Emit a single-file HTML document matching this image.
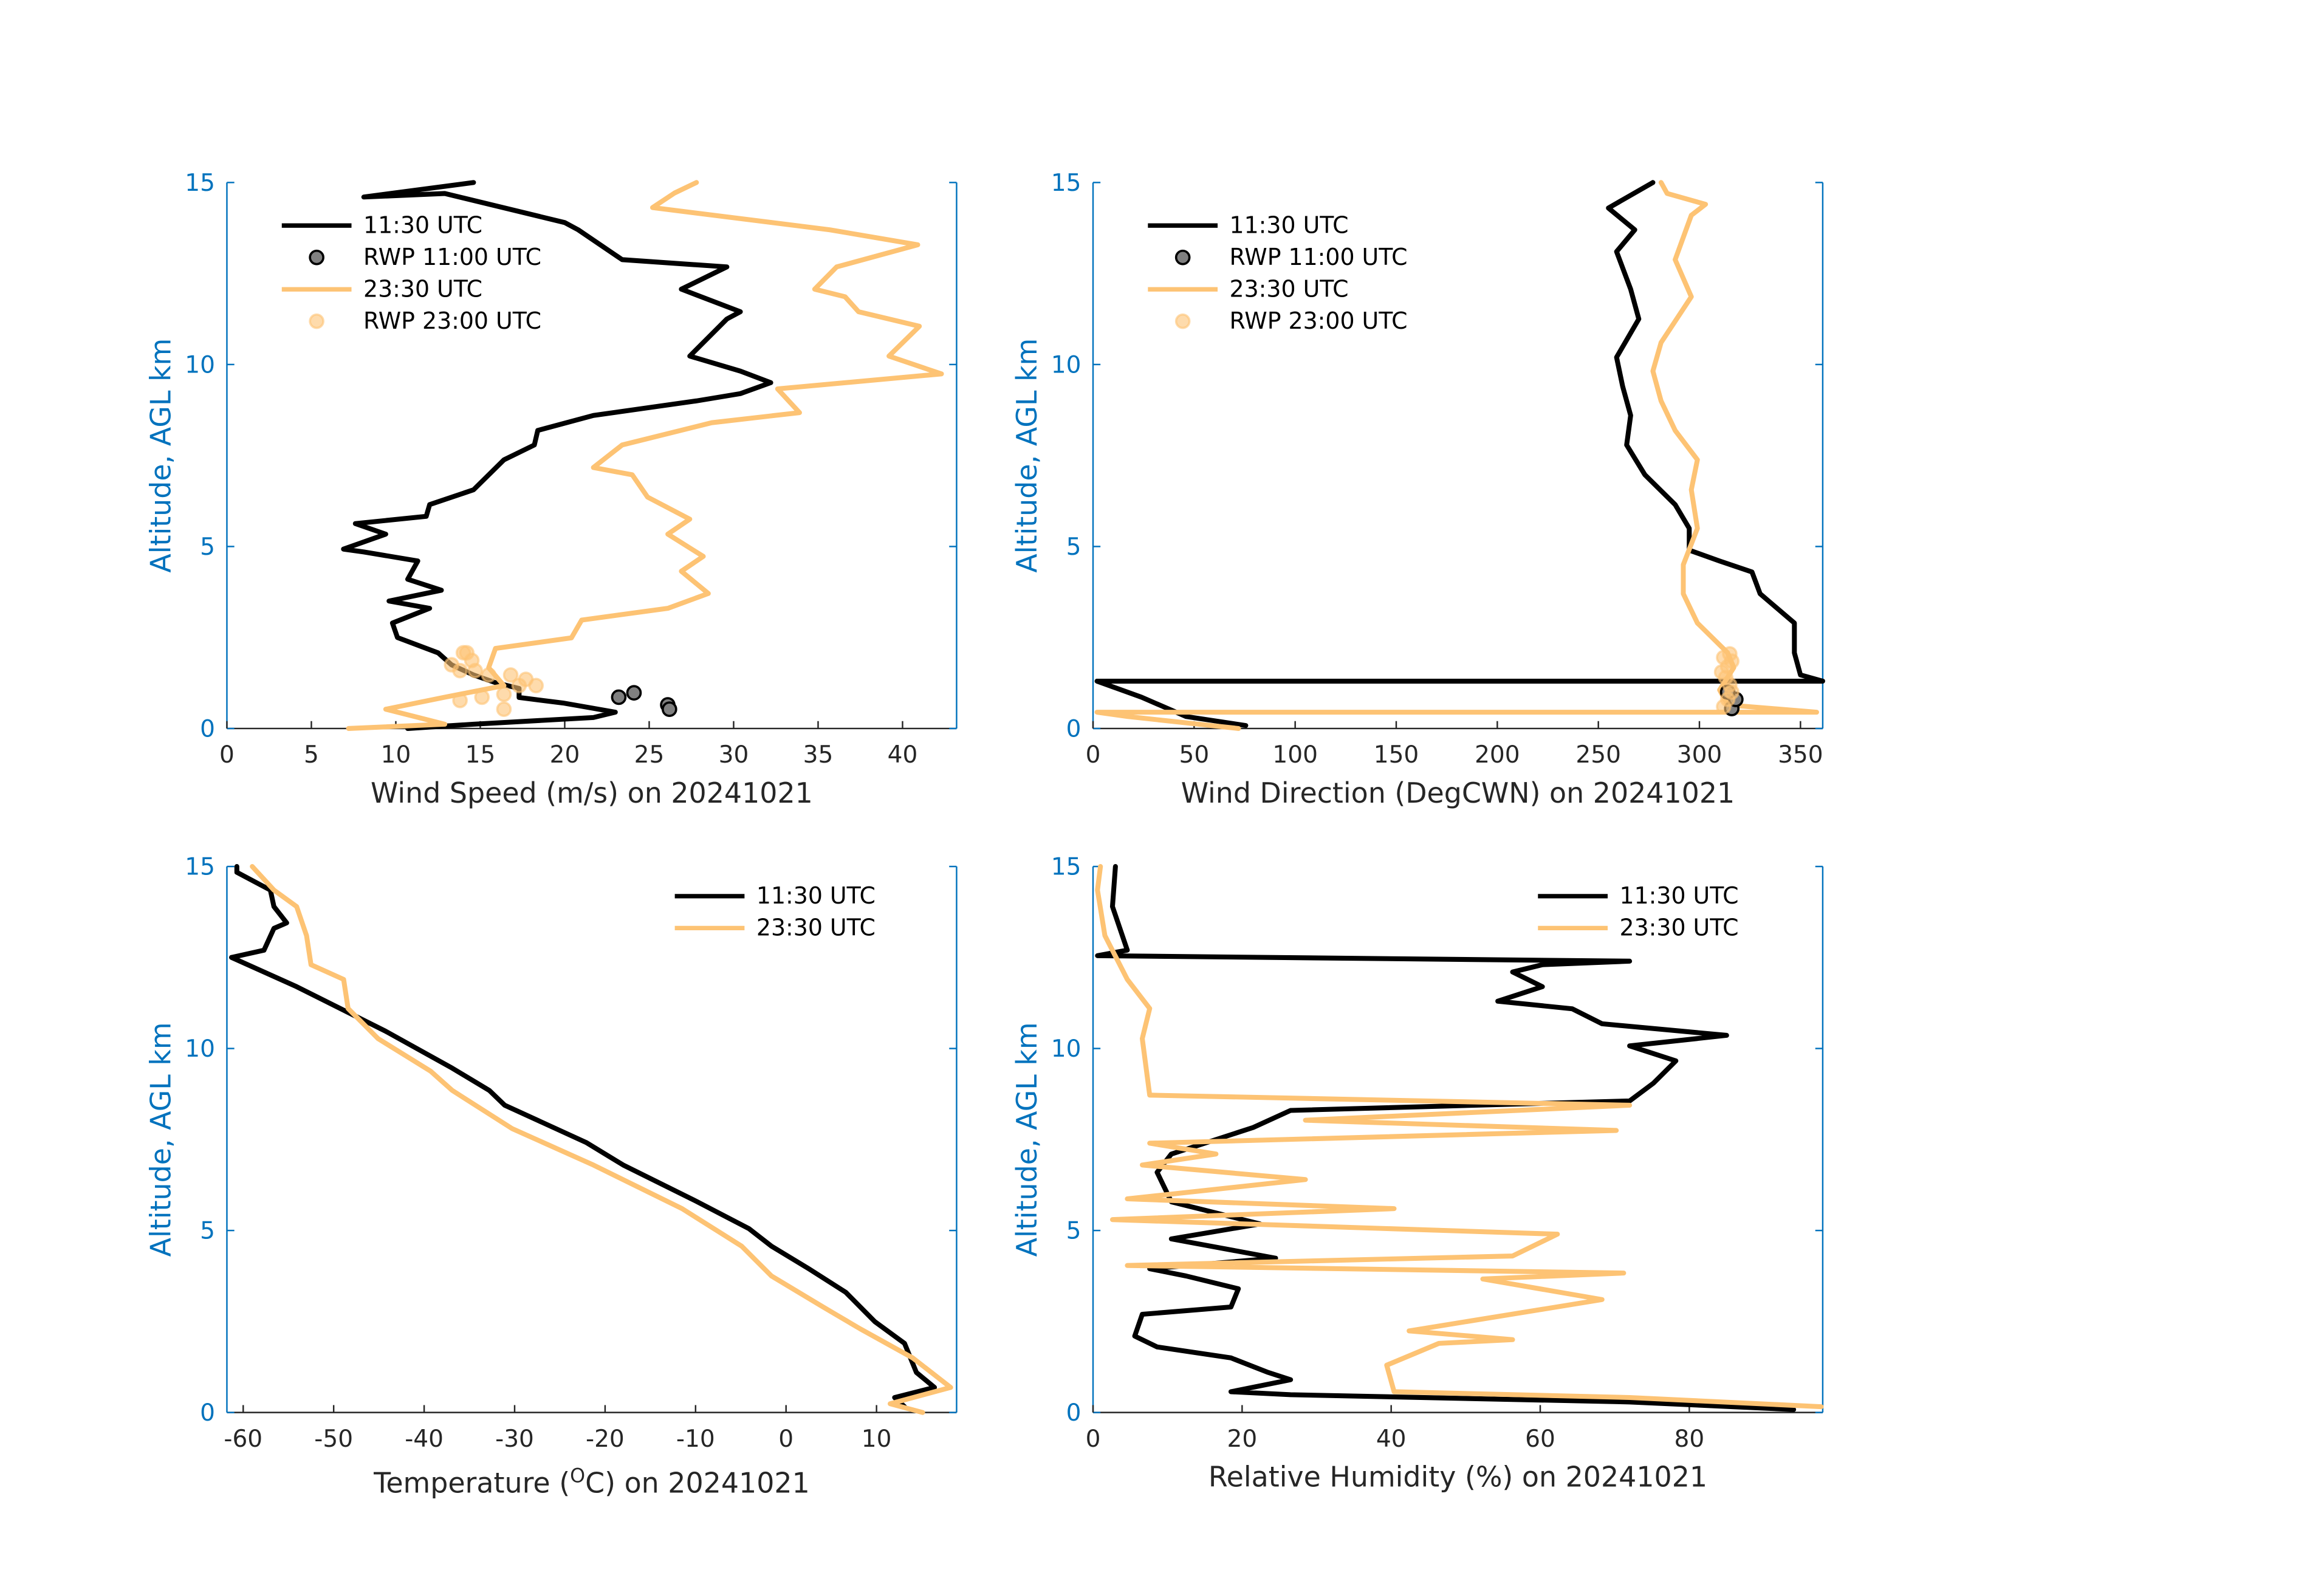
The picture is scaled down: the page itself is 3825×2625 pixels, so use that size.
<!DOCTYPE html>
<html><head><meta charset="utf-8"><style>
html,body{margin:0;padding:0;background:#fff;}
svg{display:block;}
text{font-family:"DejaVu Sans","Liberation Sans",sans-serif;}
</style></head><body>
<svg id="fig" xmlns="http://www.w3.org/2000/svg" width="3825" height="2625" viewBox="0 0 1567 1075" preserveAspectRatio="none">
<rect width="1567" height="1075" fill="#fff"/>
</svg>
<script>
// ---------- data (value, altitude km) ----------
const spd1130 = [10.7,14.6,21.7,23,19.9,17.3,17.3,15.9,14.6,13.3,12.5,10.1,9.8,12,9.6,12.7,10.7,11.3,8.1,6.9,9.4,7.6,11.8,12,14.6,16.4,18.2,18.4,21.7,27.8,30.4,32.2,30.4,27.4,29.6,30.4,26.9,29.6,23.4,20.8,20,12.9,8.1,14.6];
const spd1130Alt = [0,0.12,0.3,0.45,0.7,0.85,1.1,1.26,1.47,1.75,2.08,2.5,2.9,3.3,3.5,3.8,4.1,4.6,4.85,4.93,5.34,5.63,5.83,6.15,6.56,7.38,7.79,8.19,8.6,9.0,9.2,9.5,9.82,10.23,11.25,11.45,12.07,12.68,12.88,13.7,13.9,14.7,14.6,15];
const spd2330 = [7.2,12.9,9.4,12.9,16.4,15.5,15.9,20.4,21,26.1,28.5,26.9,28.2,26.1,27.4,24.9,24,21.7,23.4,28.7,33.9,32.6,42.3,39.2,41,37.4,36.6,34.8,36.1,40.9,35.7,25.2,26.5,27.8];
const spd2330Alt = [0,0.12,0.53,0.86,1.18,1.67,2.2,2.49,2.98,3.3,3.71,4.32,4.73,5.34,5.75,6.36,6.97,7.17,7.79,8.4,8.68,9.33,9.74,10.23,11.05,11.45,11.86,12.07,12.68,13.29,13.7,14.31,14.71,15];
const rwpSpd1100 = [23.2,24.1,26.1,26.2];
const rwpSpd1100Alt = [0.86,0.98,0.65,0.53];
const rwpSpd2300 = [14,14.5,13.3,13.8,14.7,15.5,16.8,17.7,18.3,17.3,16.4,15.1,13.8,16.4,14.2];
const rwpSpd2300Alt = [2.08,1.87,1.75,1.59,1.59,1.47,1.47,1.35,1.18,1.18,0.94,0.86,0.77,0.53,2.08];

const dir1130 = [75.6,46,24,2,361,350,347,347,330,326,310,295,295,288,273,264,266,262,259,270,266,259,268,255,277];
const dir1130Alt = [0.08,0.33,0.86,1.3,1.3,1.47,2.08,2.9,3.7,4.3,4.6,4.9,5.5,6.15,6.97,7.79,8.6,9.4,10.2,11.25,12.07,13.1,13.7,14.3,15];
const dir2330 = [72,17,2,358,314,310,317,314,299,292,292,299,296,299,288,281,277,281,296,288,296,303,284,281];
const dir2330Alt = [0,0.33,0.45,0.45,0.65,1.06,1.67,2.08,2.9,3.7,4.5,5.5,6.56,7.38,8.19,9.0,9.82,10.6,11.86,12.88,14.1,14.4,14.7,15];
const rwpDir1100 = [316,318,314];
const rwpDir1100Alt = [0.55,0.8,1.0];
const rwpDir2300 = [312,314,316,315,313,311,314,316,312,315];
const rwpDir2300Alt = [0.6,0.8,1.0,1.2,1.4,1.55,1.7,1.85,1.95,2.05];

const tmp1130 = [13.1,12,16.4,14.4,13.1,9.8,6.6,2.5,-1.6,-4.1,-9.8,-18,-22.1,-31.1,-32.8,-36.9,-44.3,-54.1,-61.3,-57.7,-56.6,-55.2,-56.6,-57,-60.7,-60.7];
const tmp1130Alt = [0.16,0.41,0.69,1.1,1.9,2.5,3.3,3.95,4.57,5.05,5.79,6.8,7.42,8.44,8.85,9.46,10.48,11.7,12.5,12.7,13.3,13.45,13.9,14.35,14.84,15];
const tmp2330 = [15.1,11.5,18.2,14,8.2,4.1,-1.6,-4.9,-11.5,-21.3,-30.3,-36.9,-39.3,-45.1,-48.4,-48.9,-52.5,-53,-54.1,-56.6,-59];
const tmp2330Alt = [0,0.24,0.69,1.5,2.3,2.9,3.75,4.57,5.6,6.8,7.8,8.85,9.38,10.27,11.1,11.9,12.3,13.1,13.9,14.35,15];

const rh1130 = [94,72,26.5,18.5,26.5,23.5,18.5,8.6,5.6,6.6,18.5,19.5,12.5,7.6,24.5,10.5,22.4,10.5,8.6,10.5,21.5,26.5,72,75.2,78.2,72,85,68.3,64.3,54.3,60.3,56.3,60.3,72,0.6,4.6,2.6,3];
const rh1130Alt = [0.08,0.29,0.49,0.57,0.9,1.1,1.5,1.8,2.1,2.7,2.9,3.4,3.75,3.95,4.24,4.77,5.18,5.79,6.6,7.1,7.83,8.3,8.56,9.05,9.66,10.07,10.36,10.68,11.09,11.3,11.7,12.1,12.3,12.4,12.55,12.7,13.9,15];
const rh2330 = [97.7,72,40.4,39.4,46.4,56.3,42.4,68.3,52.3,71.2,4.6,56.3,62.3,2.6,40.4,4.6,28.5,6.6,16.5,7.6,70.2,28.5,72,7.6,6.6,7.6,4.6,1.6,0.6,1];
const rh2330Alt = [0.16,0.41,0.57,1.3,1.9,2.0,2.24,3.1,3.67,3.83,4.04,4.3,4.9,5.3,5.6,5.87,6.4,6.8,7.1,7.4,7.75,8.03,8.44,8.72,10.27,11.1,11.9,13.1,14.35,15];

const yTicks = [0,5,10,15];
const spdTicks = [0,5,10,15,20,25,30,35,40];
const dirTicks = [0,50,100,150,200,250,300,350];
const tmpTicks = [-60,-50,-40,-30,-20,-10,0,10];
const rhTicks = [0,20,40,60,80];

// ---------- drawing ----------
const NS = "http://www.w3.org/2000/svg";
const svg = document.getElementById('fig');
const BLACK = "#000", ORANGE = "#FDC374", BLUE = "#0072BD", GRAY = "#262626";
function mk(tag, attrs, parent){ const e=document.createElementNS(NS,tag); for(const k in attrs) e.setAttribute(k,attrs[k]); (parent||svg).appendChild(e); return e; }

function panel(p){
  const g = mk('g',{});
  
  
  const sx = v => p.x0 + (v - p.xmin)/(p.xmax - p.xmin)*(p.x1 - p.x0);
  const sy = v => p.y1 - (v/15)*(p.y1 - p.y0);
  const yl = mk('line',{x1:p.x0,y1:p.y0,x2:p.x0,y2:p.y1,stroke:BLUE,'stroke-width':1},g);
   
  const yr = mk('line',{x1:p.x1,y1:p.y0,x2:p.x1,y2:p.y1,stroke:BLUE,'stroke-width':1},g);
   
  const xl = mk('line',{x1:p.x0,y1:p.y1,x2:p.x1,y2:p.y1,stroke:GRAY,'stroke-width':1},g);
   
  yTicks.forEach(t=>{
    const y=sy(t);
    mk('line',{x1:p.x0,y1:y,x2:p.x0+5,y2:y,stroke:BLUE,'stroke-width':1},g);
    mk('line',{x1:p.x1,y1:y,x2:p.x1-5,y2:y,stroke:BLUE,'stroke-width':1},g);
    const tx = mk('text',{x:p.x0-8,y:y+5.5,'text-anchor':'end','font-size':16,fill:BLUE},g);
    tx.textContent=t;
     
  });
  p.xticks.forEach(t=>{
    const x=sx(t);
    mk('line',{x1:x,y1:p.y1,x2:x,y2:p.y1-5,stroke:GRAY,'stroke-width':1},g);
    const tx = mk('text',{x:x,y:p.y1+23,'text-anchor':'middle','font-size':16,fill:GRAY},g);
    tx.textContent=t;
     
  });
  const yt = mk('text',{x:0,y:0,transform:`translate(${p.x0-38},${(p.y0+p.y1)/2}) rotate(-90)`,'text-anchor':'middle','font-size':18.8,fill:BLUE},g);
  yt.textContent='Altitude, AGL km';
   
  const xt = mk('text',{x:(p.x0+p.x1)/2,y:p.y1+p.xtOff,'text-anchor':'middle','font-size':18.8,fill:GRAY},g);
  xt.innerHTML = p.xtitle;
   
  p.series.forEach(s=>{
    if(s.type==='line'){
      const d = s.v.map((v,i)=>(i?'L':'M')+sx(v).toFixed(1)+','+sy(s.a[i]).toFixed(1)).join('');
      const pa = mk('path',{d:d,fill:'none',stroke:s.c,'stroke-width':3.3,'stroke-linejoin':'round','stroke-linecap':'round'},g);
       
    } else {
      s.v.forEach((v,i)=>{
        const c = mk('circle',{cx:sx(v),cy:sy(s.a[i]),r:4.5,fill:s.f,stroke:s.c,'stroke-width':1.5,'fill-opacity':s.op,'stroke-opacity':s.op},g);
         
      });
    }
  });
  const lg = mk('g',{},g);
   
  p.legend.forEach((e,i)=>{
    const y = p.ly + i*21.5;
    if(e.type==='line') mk('line',{x1:p.lx,y1:y,x2:p.lx+47,y2:y,stroke:e.c,'stroke-width':3},lg);
    else mk('circle',{cx:p.lx+23.5,cy:y,r:4.5,fill:e.f,stroke:e.c,'stroke-width':1.5,'fill-opacity':e.op,'stroke-opacity':e.op},lg);
    const t = mk('text',{x:p.lx+55,y:y+5,'font-size':15.5,fill:'#000'},lg);
    t.textContent = e.label;
     
  });
}

const legFull = [
  {type:'line',c:BLACK,label:'11:30 UTC'},
  {type:'pt',c:BLACK,f:'#808080',op:1,label:'RWP 11:00 UTC'},
  {type:'line',c:ORANGE,label:'23:30 UTC'},
  {type:'pt',c:ORANGE,f:'#FDC374',op:0.6,label:'RWP 23:00 UTC'}
];
const legTwo = [legFull[0], legFull[2]];

panel({name:'wind-speed-panel',x0:153,x1:645,y0:123,y1:491,xmin:0,xmax:43.2,xticks:spdTicks,xtOff:50,
  xtitle:'Wind Speed (m/s) on 20241021',lx:190,ly:152,legend:legFull,
  series:[
    {type:'line',v:spd1130,a:spd1130Alt,c:BLACK,name:'speed-1130-line'},
    {type:'line',v:spd2330,a:spd2330Alt,c:ORANGE,name:'speed-2330-line'},
    {type:'pt',v:rwpSpd1100,a:rwpSpd1100Alt,c:BLACK,f:'#808080',op:1,name:'rwp-1100-point'},
    {type:'pt',v:rwpSpd2300,a:rwpSpd2300Alt,c:ORANGE,f:'#FDC374',op:0.6,name:'rwp-2300-point'}
  ]});
panel({name:'wind-direction-panel',x0:737,x1:1229,y0:123,y1:491,xmin:0,xmax:361,xticks:dirTicks,xtOff:50,
  xtitle:'Wind Direction (DegCWN) on 20241021',lx:774,ly:152,legend:legFull,
  series:[
    {type:'line',v:dir1130,a:dir1130Alt,c:BLACK,name:'direction-1130-line'},
    {type:'line',v:dir2330,a:dir2330Alt,c:ORANGE,name:'direction-2330-line'},
    {type:'pt',v:rwpDir1100,a:rwpDir1100Alt,c:BLACK,f:'#808080',op:1,name:'rwp-1100-point'},
    {type:'pt',v:rwpDir2300,a:rwpDir2300Alt,c:ORANGE,f:'#FDC374',op:0.6,name:'rwp-2300-point'}
  ]});
panel({name:'temperature-panel',x0:153,x1:645,y0:584,y1:952,xmin:-61.8,xmax:18.85,xticks:tmpTicks,xtOff:54,
  xtitle:'Temperature (<tspan font-size="13" dy="-7">O</tspan><tspan dy="7">C) on 20241021</tspan>',lx:455,ly:604,legend:legTwo,
  series:[
    {type:'line',v:tmp1130,a:tmp1130Alt,c:BLACK,name:'temperature-1130-line'},
    {type:'line',v:tmp2330,a:tmp2330Alt,c:ORANGE,name:'temperature-2330-line'}
  ]});
panel({name:'humidity-panel',x0:737,x1:1229,y0:584,y1:952,xmin:0,xmax:97.9,xticks:rhTicks,xtOff:50,
  xtitle:'Relative Humidity (%) on 20241021',lx:1037,ly:604,legend:legTwo,
  series:[
    {type:'line',v:rh1130,a:rh1130Alt,c:BLACK,name:'humidity-1130-line'},
    {type:'line',v:rh2330,a:rh2330Alt,c:ORANGE,name:'humidity-2330-line'}
  ]});
</script>
</body></html>
